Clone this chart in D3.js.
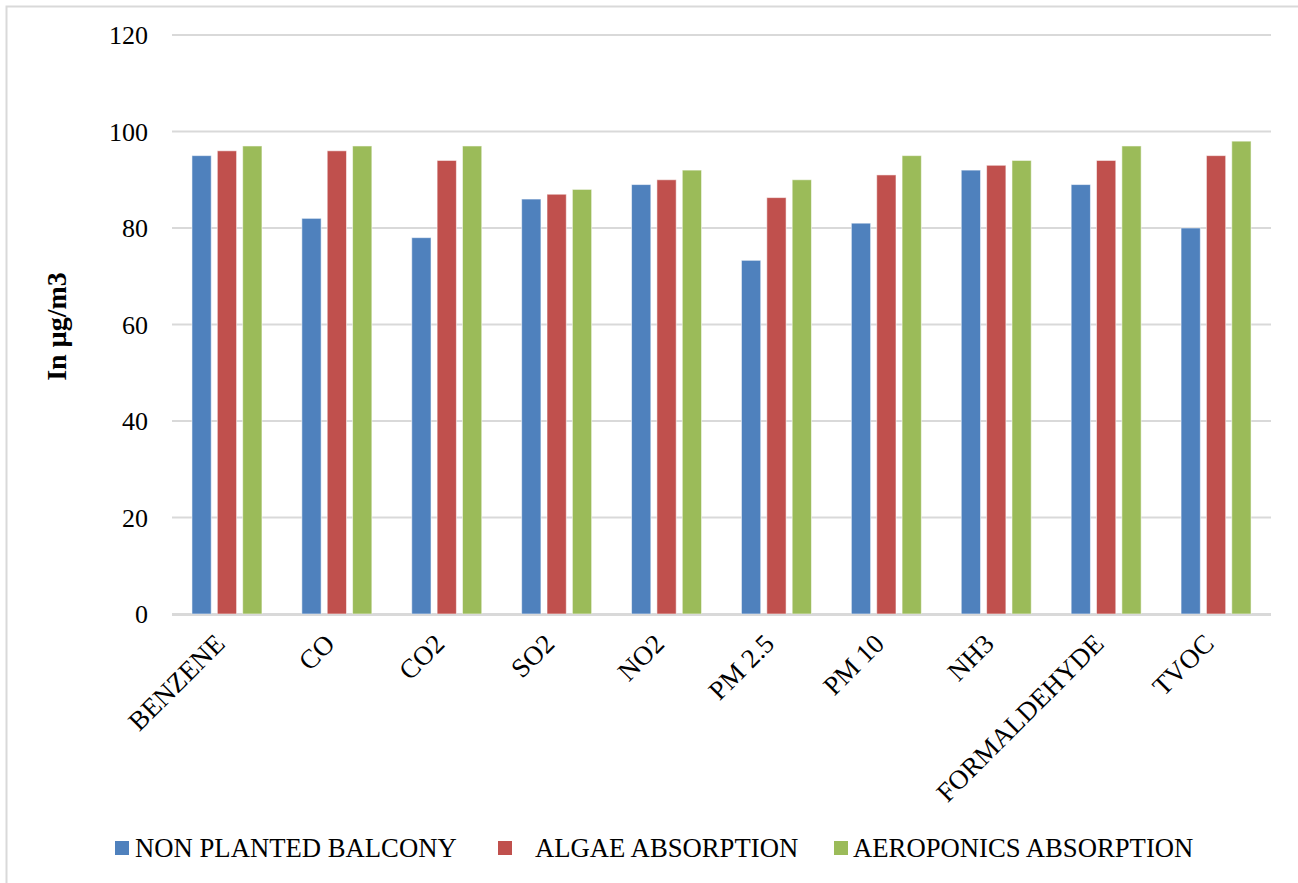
<!DOCTYPE html>
<html>
<head>
<meta charset="utf-8">
<script src="https://cdn.jsdelivr.net/npm/d3@7"></script>
<style>
  html, body { margin: 0; padding: 0; background: #fff; }
  svg { display: block; }
  svg text { font-family: "Liberation Serif", "Times New Roman", serif; fill: #000; }
</style>
</head>
<body>
<svg id="chart" width="1298" height="883"></svg>
<script>
// Pollutant levels per balcony setup (µg/m3)
const categories = ["BENZENE", "CO", "CO2", "SO2", "NO2", "PM 2.5", "PM 10", "NH3", "FORMALDEHYDE", "TVOC"];
const seriesNames = ["NON PLANTED BALCONY", "ALGAE ABSORPTION", "AEROPONICS ABSORPTION"];
const nonPlanted = [95, 82, 78, 86, 89, 73.3, 81, 92, 89, 80];
const algae      = [96, 96, 94, 87, 90, 86.3, 91, 93, 94, 95];
const aeroponics = [97, 97, 97, 88, 92, 90, 95, 94, 97, 98];
const yTicks = [0, 20, 40, 60, 80, 100, 120];
const colors = ["#4f81bd", "#c0504d", "#9bbb59"];

const seriesValues = [nonPlanted, algae, aeroponics];
const FONT = "Liberation Serif";

const svg = d3.select("#chart");
const W = 1298, H = 883;
const plot = { left: 172, right: 1271, top: 35, bottom: 614 };

// frame
svg.append("rect")
  .attr("x", 6.5).attr("y", 6.5)
  .attr("width", W + 10).attr("height", H + 10)
  .attr("fill", "none").attr("stroke", "#d9d9d9").attr("stroke-width", 2);

const x = d3.scaleBand().domain(categories).range([plot.left, plot.right]).paddingInner(0).paddingOuter(0);
const inner = d3.scaleBand().domain(d3.range(seriesNames.length)).range([-35, 35]).paddingInner(0.24);
const y = d3.scaleLinear().domain([0, 120]).range([plot.bottom, plot.top]);

// gridlines
svg.append("g").selectAll("line").data(yTicks).join("line")
  .attr("x1", plot.left).attr("x2", plot.right)
  .attr("y1", d => y(d)).attr("y2", d => y(d))
  .attr("stroke", "#d9d9d9").attr("stroke-width", 2);

// y axis labels
const yAxis = d3.axisLeft(y).tickValues(yTicks).tickSize(0).tickPadding(0);
const gy = svg.append("g").attr("transform", `translate(${plot.left - 24},0)`).call(yAxis);
gy.attr("font-family", FONT);
gy.select(".domain").remove();
gy.selectAll("text")
  .attr("font-family", FONT)
  .attr("font-size", 26).attr("fill", "#000").attr("dy", "0.33em");

// bars
seriesValues.forEach((vals, si) => {
  svg.append("g").selectAll("rect").data(categories).join("rect")
    .attr("x", (c) => x(c) + x.bandwidth() / 2 + inner(si))
    .attr("width", inner.bandwidth())
    .attr("y", (c, i) => y(vals[i]))
    .attr("height", (c, i) => y(0) - y(vals[i]))
    .attr("fill", colors[si])
    .attr("stroke", "#ffffff").attr("stroke-opacity", 0.55).attr("stroke-width", 1);
});

// baseline
svg.append("line")
  .attr("x1", plot.left).attr("x2", plot.right)
  .attr("y1", y(0) + 1).attr("y2", y(0) + 1)
  .attr("stroke", "#d9d9d9").attr("stroke-width", 2);

// x axis labels
const xAxis = d3.axisBottom(x).tickSize(0).tickPadding(0);
const gx = svg.append("g").attr("transform", `translate(0,${plot.bottom})`).call(xAxis);
gx.attr("font-family", FONT);
gx.select(".domain").remove();
gx.selectAll("text")
  .attr("font-family", FONT)
  .attr("font-size", 27).attr("fill", "#000")
  .attr("text-anchor", "end")
  .attr("dy", "0.7em")
  .attr("transform", "translate(-14,18) rotate(-45)");

// y axis title
svg.append("text")
  .attr("transform", `translate(66,${(plot.top + plot.bottom) / 2 + 2}) rotate(-90)`)
  .attr("text-anchor", "middle")
  .attr("font-family", FONT)
  .attr("font-weight", "bold").attr("font-size", 28)
  .text("In µg/m3");

// legend
const legendX = [115, 498, 834];
const legendTextX = [135, 535, 853];
const lg = svg.append("g").attr("font-family", FONT);
seriesNames.forEach((name, i) => {
  lg.append("rect")
    .attr("x", legendX[i]).attr("y", 841)
    .attr("width", 14).attr("height", 14)
    .attr("fill", colors[i]);
  lg.append("text")
    .attr("x", legendTextX[i]).attr("y", 857)
    .attr("font-family", FONT)
    .attr("font-size", 26.7).attr("fill", "#000")
    .text(name);
});
</script>
</body>
</html>
